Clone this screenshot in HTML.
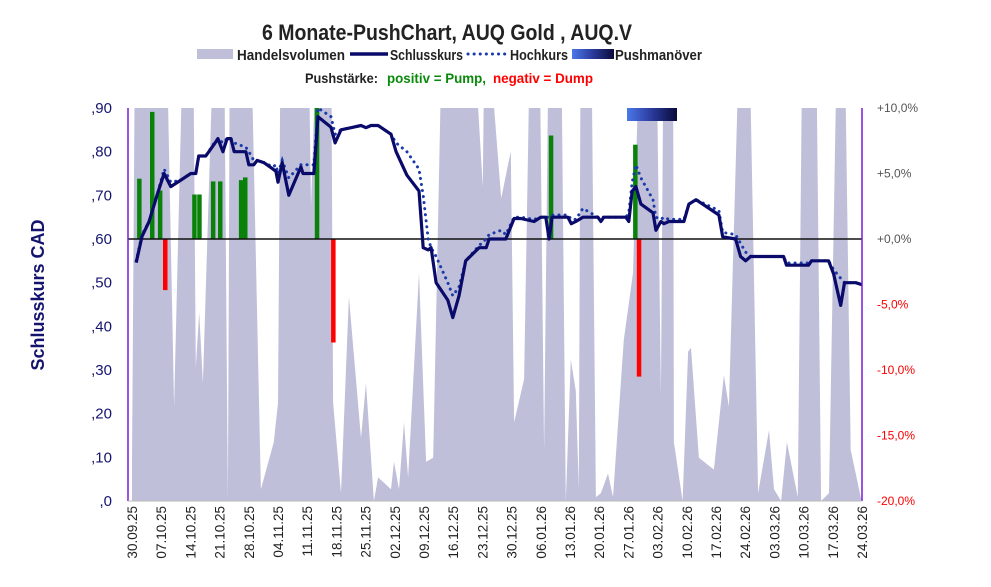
<!DOCTYPE html>
<html><head><meta charset="utf-8"><style>
html,body{margin:0;padding:0;background:#fff;}
svg{display:block;font-family:"Liberation Sans",sans-serif;}
</style></head><body>
<svg id="chart" width="991" height="587" viewBox="0 0 991 587">
<defs>
<clipPath id="plotClip"><rect x="128" y="108" width="734" height="393"/></clipPath>
<linearGradient id="pushGrad" x1="0" x2="1" y1="0" y2="0"><stop offset="0" stop-color="#4a78ea"/><stop offset="0.5" stop-color="#2a3a9a"/><stop offset="1" stop-color="#0a0a3a"/></linearGradient>
</defs>
<text x="447" y="40" text-anchor="middle" font-size="22" font-weight="bold" fill="#222" textLength="370" lengthAdjust="spacingAndGlyphs">6 Monate-PushChart, AUQ Gold , AUQ.V</text>
<g>
<rect x="197" y="49" width="36" height="10" fill="#bfbfda"/>
<text x="237" y="60" font-size="15" font-weight="bold" fill="#222" textLength="108" lengthAdjust="spacingAndGlyphs">Handelsvolumen</text>
<line x1="350" y1="54" x2="388" y2="54" stroke="#0a0a6a" stroke-width="3.5"/>
<text x="390" y="60" font-size="15" font-weight="bold" fill="#222" textLength="73" lengthAdjust="spacingAndGlyphs">Schlusskurs</text>
<line x1="468" y1="54" x2="505" y2="54" stroke="#1a3aaa" stroke-width="3" stroke-dasharray="0.1 6" stroke-linecap="round"/>
<text x="510" y="60" font-size="15" font-weight="bold" fill="#222" textLength="58" lengthAdjust="spacingAndGlyphs">Hochkurs</text>
<rect x="572" y="49" width="42" height="10" fill="url(#pushGrad)"/>
<text x="615" y="60" font-size="15" font-weight="bold" fill="#222" textLength="87" lengthAdjust="spacingAndGlyphs">Pushmanöver</text>
<text x="305" y="83" font-size="14" font-weight="bold" fill="#222" textLength="73" lengthAdjust="spacingAndGlyphs">Pushstärke:</text>
<text x="387" y="83" font-size="14" font-weight="bold" fill="#0a8a0a" textLength="99" lengthAdjust="spacingAndGlyphs">positiv = Pump,</text>
<text x="493" y="83" font-size="14" font-weight="bold" fill="#ff0000" textLength="100" lengthAdjust="spacingAndGlyphs">negativ = Dump</text>
</g>
<text transform="translate(44,295) rotate(-90)" text-anchor="middle" font-size="18" font-weight="bold" fill="#14146e">Schlusskurs CAD</text>
<g id="volG" clip-path="url(#plotClip)"></g>
<g id="pushG" clip-path="url(#plotClip)"></g>
<line x1="128" y1="239" x2="862" y2="239" stroke="#111" stroke-width="1.5"/>
<g id="lineG" clip-path="url(#plotClip)"></g>
<rect x="627" y="108" width="50" height="13" fill="url(#pushGrad)"/>
<line x1="128" y1="108" x2="128" y2="501" stroke="#7a1ad8" stroke-width="1.5"/>
<line x1="862" y1="108" x2="862" y2="501" stroke="#7a1ad8" stroke-width="1.5"/>
<line x1="128" y1="501" x2="862" y2="501" stroke="#bbb" stroke-width="1"/>
<g id="axisG"></g>
</svg>
<script>
const closeDays=[1,2.4,4.1,6,7.7,9.3,11.7,14.1,15.3,16,17.7,19.7,20.6,21.8,22.8,23.7,24.5,27.3,28,29.2,30,31.6,33.8,34.5,35,36,37.6,40.5,41,43.6,44.6,47.7,48.7,50.1,52.5,54.9,56.1,57.3,59,62.1,63.3,65.9,68.8,69.8,71,71.7,72.9,75.7,76.9,78.4,80,83.2,84.9,85.6,88.5,89.6,91.6,93.2,96.4,98,99.2,100,100.7,104.5,105.3,106.4,108.1,111.7,112.4,113.1,118.4,119.1,119.9,120.8,122,124.9,125.6,126.8,127.5,128.7,132.3,133.5,135.2,140.7,141.6,144.7,145.9,147.1,148.3,156.2,156.9,162.2,162.9,167,168.2,169.9,170.8,173.5,175.2];
const closeVals=[.546,.606,.64,.70,.75,.72,.735,.75,.75,.79,.79,.817,.83,.80,.83,.83,.80,.80,.77,.77,.78,.775,.76,.755,.73,.775,.70,.765,.75,.75,.88,.856,.82,.85,.855,.86,.855,.86,.86,.84,.80,.746,.71,.58,.575,.58,.50,.46,.42,.47,.55,.58,.58,.60,.60,.60,.647,.647,.64,.65,.65,.60,.65,.65,.635,.64,.65,.65,.64,.65,.65,.64,.71,.72,.68,.66,.62,.64,.635,.64,.64,.68,.69,.655,.605,.60,.56,.55,.56,.56,.54,.54,.55,.55,.52,.448,.50,.50,.495];
const highVals=[.55,.61,.64,.70,.76,.73,.735,.75,.75,.79,.79,.82,.83,.82,.83,.83,.82,.81,.80,.78,.78,.775,.765,.77,.75,.78,.74,.77,.77,.77,.90,.88,.84,.85,.855,.86,.855,.86,.86,.84,.82,.80,.76,.70,.60,.58,.56,.50,.47,.49,.55,.585,.60,.61,.62,.61,.65,.65,.645,.65,.65,.65,.655,.655,.645,.645,.67,.65,.65,.65,.65,.66,.73,.77,.74,.69,.65,.645,.65,.645,.645,.68,.69,.665,.615,.61,.59,.57,.56,.56,.545,.545,.55,.55,.53,.51,.50,.50,.495];
const volDays=[0,0.8,8.1,10.1,12.5,14.6,15.3,16.1,17,19.9,22,23,23.5,27.8,28.3,30.9,34,35,35.7,37.4,42.2,42.9,44.6,47.7,48.2,50.1,52,54.9,56.1,58,59,62.1,62.8,64,65.2,66.2,68.8,70.5,72.2,74.5,81.3,84.1,84.6,88.5,90.8,91.6,94,95.6,97.6,98.8,100,102.8,104,105.2,106.4,107.1,107.6,110,111.2,112.4,114.1,115.3,117.9,120.1,122,125.6,126.8,127.5,129.7,129.9,132,133.3,134,135.9,139.5,140.7,141.9,143.1,145.9,147.8,150.1,152.7,153.9,155.6,157,159.6,160.8,163.9,165.2,167.1,169.2,170.7,172.3,174.7,175];
const volVals=[10,130,130,24,130,130,34,48,30,130,130,0,130,130,130,3,15,25,130,130,130,75,130,130,25,2,52,16,30,0,6,3,10,3,20,6,58,10,11,130,130,80,130,77,89,20,31,130,130,13,130,130,0,36,28,3,130,130,1,2,7,1,41,58,130,130,27,130,130,15,0,38,39,11,8,20,32,24,130,130,2,18,3,0,15,1,130,130,0,2,130,130,13,1,0];
const pushDays=[1.7,4.8,6.7,7.9,14.9,16.1,19.4,21.1,26.1,27.1,44.3,48.2,100.4,120.6,121.5];
const pushVals=[4.6,9.7,3.7,-3.9,3.4,3.4,4.4,4.4,4.5,4.7,10.5,-7.9,7.9,7.2,-10.5];
const priceTicks=[0,.1,.2,.3,.4,.5,.6,.7,.8,.9];
const priceTickLabels=[",0",",10",",20",",30",",40",",50",",60",",70",",80",",90"];
const pctTicks=[10,5,0,-5,-10,-15,-20];
const pctTickLabels=["+10,0%","+5,0%","+0,0%","-5,0%","-10,0%","-15,0%","-20,0%"];
const dateLabels=["30.09.25","07.10.25","14.10.25","21.10.25","28.10.25","04.11.25","11.11.25","18.11.25","25.11.25","02.12.25","09.12.25","16.12.25","23.12.25","30.12.25","06.01.26","13.01.26","20.01.26","27.01.26","03.02.26","10.02.26","17.02.26","24.02.26","03.03.26","10.03.26","17.03.26","24.03.26"];

const NS="http://www.w3.org/2000/svg";
const X0=132,X1=862,DMAX=175,YB=501,YT=108;
function xS(d){return X0+d*(X1-X0)/DMAX;}
function yP(v){return YB-v/0.9*(YB-YT);}
function yV(v){return YB-v/100*(YB-YT);}
function yPct(p){return 239-p/10*131;}
function mk(tag,attrs,parent){const e=document.createElementNS(NS,tag);for(const k in attrs)e.setAttribute(k,attrs[k]);parent.appendChild(e);return e;}

const volG=document.getElementById('volG');
let vp="M"+xS(volDays[0])+","+YB;
for(let i=0;i<volDays.length;i++)vp+=" L"+xS(volDays[i]).toFixed(1)+","+yV(volVals[i]).toFixed(1);
vp+=" L"+xS(volDays[volDays.length-1])+","+YB+" Z";
const va=mk('path',{d:vp,fill:'#bfbfda'},volG);



const pushG=document.getElementById('pushG');
for(let i=0;i<pushDays.length;i++){
  const v=pushVals[i],y0=yPct(0),y1=yPct(v);
  const r=mk('rect',{x:(xS(pushDays[i])-2).toFixed(1),y:Math.min(y0,y1).toFixed(1),width:4.5,height:Math.abs(y1-y0).toFixed(1),fill:v>=0?'#0a820a':'#ff0000'},pushG);
  
  
}

const lineG=document.getElementById('lineG');
let hp="",cp="";
for(let i=0;i<closeDays.length;i++){
  hp+=(i?" L":"M")+xS(closeDays[i]).toFixed(1)+","+yP(highVals[i]).toFixed(1);
  cp+=(i?" L":"M")+xS(closeDays[i]).toFixed(1)+","+yP(closeVals[i]).toFixed(1);
}
const hl=mk('path',{d:hp,fill:'none',stroke:'#1a3aaa','stroke-width':3,'stroke-dasharray':'0.1 6','stroke-linecap':'round'},lineG);


const cl=mk('path',{d:cp,fill:'none',stroke:'#0a0a6a','stroke-width':3.2,'stroke-linejoin':'round'},lineG);



const axisG=document.getElementById('axisG');
for(let i=0;i<priceTicks.length;i++){
  const t=mk('text',{x:112,y:(yP(priceTicks[i])+5).toFixed(1),'text-anchor':'end','font-size':15,fill:'#14146e'},axisG);
  t.textContent=priceTickLabels[i];
  
  
}
for(let i=0;i<pctTicks.length;i++){
  const t=mk('text',{x:877,y:(yPct(pctTicks[i])+4).toFixed(1),'font-size':12,fill:pctTicks[i]<0?'#ff0000':'#555'},axisG);
  t.textContent=pctTickLabels[i];
  
  
}
for(let i=0;i<dateLabels.length;i++){
  const x=xS(i*7);
  const t=mk('text',{transform:'translate('+(x+5).toFixed(1)+',506) rotate(-90)','text-anchor':'end','font-size':13.5,fill:'#222'},axisG);
  t.textContent=dateLabels[i];
  
  
}
</script>
</body></html>
